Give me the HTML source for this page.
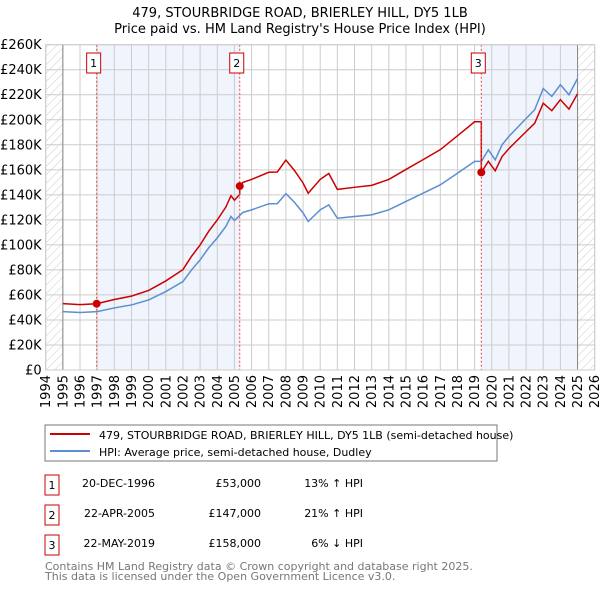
<!DOCTYPE html>
<html><head><meta charset="utf-8"><style>
body{margin:0;background:#fff;width:600px;height:590px;overflow:hidden}
svg{font-family:"DejaVu Sans","Liberation Sans",sans-serif}
</style></head><body>
<svg id="chart" width="600" height="590" xmlns="http://www.w3.org/2000/svg">
<defs><pattern id="hatch" width="6" height="6" patternUnits="userSpaceOnUse" patternTransform="rotate(45)"><line x1="0" y1="0" x2="0" y2="6" stroke="#ccc" stroke-width="1"/></pattern></defs>
<text x="300" y="17" text-anchor="middle" font-size="13">479, STOURBRIDGE ROAD, BRIERLEY HILL, DY5 1LB</text>
<text x="300" y="33" text-anchor="middle" font-size="13">Price paid vs. HM Land Registry's House Price Index (HPI)</text>
<g id="plot"></g>
<g>
<rect x="45" y="425" width="452" height="36" fill="#fff" stroke="#777"/>
<line x1="50" y1="434" x2="90" y2="434" stroke="#cc0000" stroke-width="2"/>
<text x="99" y="439" font-size="11">479, STOURBRIDGE ROAD, BRIERLEY HILL, DY5 1LB (semi-detached house)</text>
<line x1="50" y1="451" x2="90" y2="451" stroke="#5b8fd0" stroke-width="2"/>
<text x="99" y="456" font-size="11">HPI: Average price, semi-detached house, Dudley</text>
</g>
<g font-size="11">
<rect x="45" y="475" width="14" height="20" fill="#fff" stroke="#cc0000"/><text x="52" y="489" text-anchor="middle">1</text>
<text x="155" y="487" text-anchor="end">20-DEC-1996</text><text x="261" y="487" text-anchor="end">£53,000</text><text x="363" y="487" text-anchor="end">13% ↑ HPI</text>
<rect x="45" y="505" width="14" height="20" fill="#fff" stroke="#cc0000"/><text x="52" y="519" text-anchor="middle">2</text>
<text x="155" y="517" text-anchor="end">22-APR-2005</text><text x="261" y="517" text-anchor="end">£147,000</text><text x="363" y="517" text-anchor="end">21% ↑ HPI</text>
<rect x="45" y="535" width="14" height="20" fill="#fff" stroke="#cc0000"/><text x="52" y="549" text-anchor="middle">3</text>
<text x="155" y="547" text-anchor="end">22-MAY-2019</text><text x="261" y="547" text-anchor="end">£158,000</text><text x="363" y="547" text-anchor="end">6% ↓ HPI</text>
</g>
<text x="45" y="570" font-size="11" fill="#777">Contains HM Land Registry data © Crown copyright and database right 2025.</text>
<text x="45" y="580" font-size="11" fill="#777">This data is licensed under the Open Government Licence v3.0.</text>
</svg>
<script>
const hpiYears=[1995,1996,1997,1998,1999,2000,2001,2002,2002.5,2003,2003.5,2004,2004.5,2004.8,2005,2005.5,2006,2007,2007.5,2008,2008.5,2009,2009.3,2010,2010.5,2011,2012,2013,2014,2015,2016,2017,2018,2019,2019.4,2019.8,2020.2,2020.6,2021,2022,2022.5,2023,2023.5,2024,2024.5,2025];
const hpiValues=[46.7,46,46.7,49.6,52,56,62.7,70.7,80,88,97.6,105.6,114.7,122.7,119.5,126,128,132.8,133,141,134,125.6,118.7,128,132,121.3,122.7,124,128,134.7,141.3,148,157.3,166.7,166.7,176,168,180,186.7,201,208,225,218.7,228,220,233];
const saleLabels=["1","2","3"];
const saleYears=[1996.97,2005.31,2019.39];
const salePrices=[53,147,158];
const yTicks=[0,20,40,60,80,100,120,140,160,180,200,220,240,260];
const xTicks=[1994,1995,1996,1997,1998,1999,2000,2001,2002,2003,2004,2005,2006,2007,2008,2009,2010,2011,2012,2013,2014,2015,2016,2017,2018,2019,2020,2021,2022,2023,2024,2025,2026];

const L=45.7,R=594.7,T=44.7,B=370;
const X=y=>L+(y-1994)/(2026-1994)*(R-L);
const Y=v=>B-v/260*(B-T);
const NS="http://www.w3.org/2000/svg";
const g=document.getElementById('plot');
function mk(tag,attrs,parent){const e=document.createElementNS(NS,tag);for(const k in attrs)e.setAttribute(k,attrs[k]);(parent||g).appendChild(e);return e;}
function hpiAt(t){for(let i=0;i<hpiYears.length-1;i++){if(t>=hpiYears[i]&&t<=hpiYears[i+1]){const f=(t-hpiYears[i])/(hpiYears[i+1]-hpiYears[i]);return hpiValues[i]+f*(hpiValues[i+1]-hpiValues[i]);}}return t<hpiYears[0]?hpiValues[0]:hpiValues[hpiValues.length-1];}

// background regions
let bg=mk('rect',{x:L,y:T,width:R-L,height:B-T,fill:'#fff'});

let h1=mk('rect',{x:L,y:T,width:X(1995)-L,height:B-T,fill:'url(#hatch)'});

let h2=mk('rect',{x:X(2025),y:T,width:R-X(2025),height:B-T,fill:'url(#hatch)'});

let s1=mk('rect',{x:X(saleYears[0]),y:T,width:X(saleYears[1])-X(saleYears[0]),height:B-T,fill:'#f0f4fc'});

let s2=mk('rect',{x:X(saleYears[2]),y:T,width:X(2025)-X(saleYears[2]),height:B-T,fill:'#f0f4fc'});


// grid
yTicks.forEach(v=>{
 const ln=mk('line',{x1:L,x2:R,y1:Y(v),y2:Y(v),stroke:'#ccc','stroke-width':1});
 
 const t=mk('text',{x:L-4,y:Y(v)+4.5,'text-anchor':'end','font-size':13});
 
 t.textContent=v===0?'£0':'£'+v+'K';
});
xTicks.forEach(yr=>{
 const ln=mk('line',{x1:X(yr),x2:X(yr),y1:T,y2:B,stroke:'#ccc','stroke-width':1});
 
 const t=mk('text',{x:0,y:0,'font-size':13,'text-anchor':'end',transform:`translate(${X(yr)+4.5},${B+5}) rotate(-90)`});
 
 t.textContent=yr;
});
let a1=mk('line',{x1:X(1995),x2:X(1995),y1:T,y2:B,stroke:'#888'});

let a2=mk('line',{x1:X(2025),x2:X(2025),y1:T,y2:B,stroke:'#888'});


// HPI line
let hp=mk('polyline',{points:hpiYears.map((y,i)=>X(y)+','+Y(hpiValues[i])).join(' '),fill:'none',stroke:'#5b8fd0','stroke-width':1.5});


// price line: HPI scaled to each sale
const pts=[];
function factorAt(t){let k=0;for(let i=0;i<saleYears.length;i++){if(t>=saleYears[i])k=i;}return salePrices[k]/hpiAt(saleYears[k]);}
const times=hpiYears.concat(saleYears).sort((a,b)=>a-b);
times.forEach(t=>{
 saleYears.forEach((sy,i)=>{if(Math.abs(t-sy)<1e-9&&i>0){const prev=salePrices[i-1]/hpiAt(saleYears[i-1]);pts.push([t,hpiAt(t)*prev]);}});
 pts.push([t,hpiAt(t)*factorAt(t)]);
});
let pl=mk('polyline',{points:pts.map(p=>X(p[0])+','+Y(p[1])).join(' '),fill:'none',stroke:'#cc0000','stroke-width':1.5});


// sale markers
saleYears.forEach((sy,i)=>{
 const v=mk('line',{x1:X(sy),x2:X(sy),y1:T,y2:B,stroke:'#ee4444','stroke-width':1,'stroke-dasharray':'2,2'});
 
 const c=mk('circle',{cx:X(sy),cy:Y(salePrices[i]),r:4,fill:'#cc0000'});
 
 const bx=mk('rect',{x:X(sy)-7-3,y:53,width:14,height:20,fill:'#fff',stroke:'#cc0000'});
 
 const t=mk('text',{x:X(sy)-3,y:67,'text-anchor':'middle','font-size':11});
 
 t.textContent=saleLabels[i];
});
let fr=mk('rect',{x:L,y:T,width:R-L,height:B-T,fill:'none',stroke:'#ccc'});

</script>
</body></html>
